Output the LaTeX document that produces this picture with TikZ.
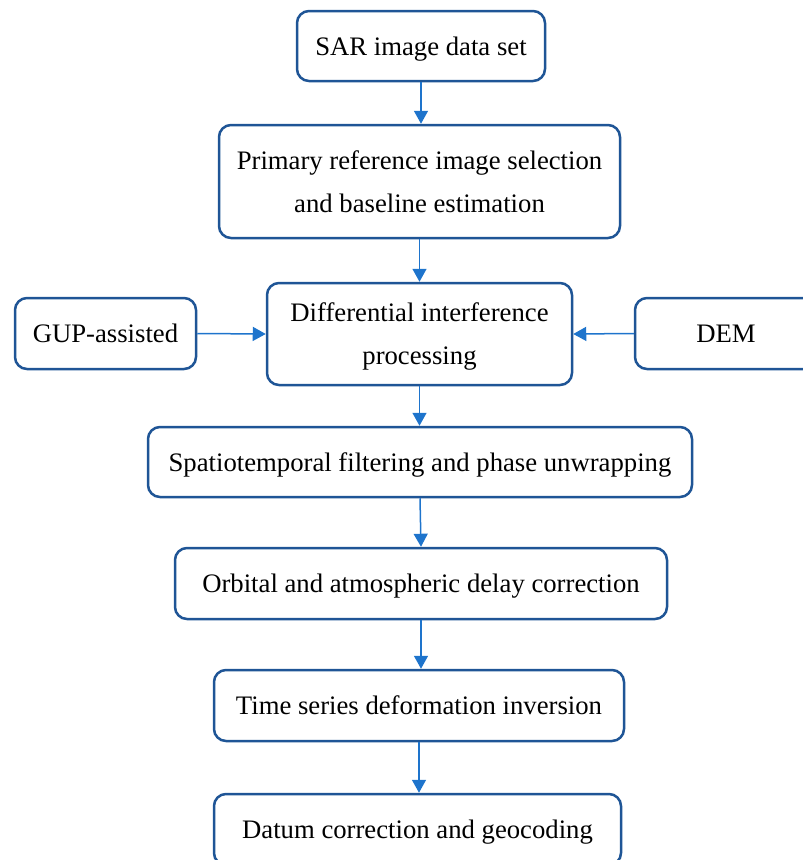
\documentclass[tikz,border=0pt]{standalone}
\usepackage{fontspec}
\setmainfont{Liberation Serif}
\usetikzlibrary{arrows.meta}
\definecolor{boxblue}{HTML}{1F5596}
\definecolor{arrblue}{HTML}{1E74CC}
\begin{document}
\begin{tikzpicture}[x=1pt,y=-1pt,
 box/.style={draw=boxblue, line width=2.5pt, rounded corners=12pt, fill=white, align=center, font=\fontsize{26.7}{43}\selectfont, inner sep=0pt, text depth=0pt},
 arr/.style={draw=arrblue, line width=1.5pt, -{Triangle[length=13pt,width=14pt]}}]
\useasboundingbox (0,0) rectangle (803,860);
\begin{scope}
\clip (0,0) rectangle (803,860);
\node[box, minimum width=248pt, minimum height=70pt] (sar) at (421,46) {SAR image data set};
\node[box, minimum width=401pt, minimum height=113pt] (prim) at (419.5,181.5) {Primary reference image selection\\and baseline estimation};
\node[box, minimum width=305pt, minimum height=102pt] (diff) at (419.5,334) {Differential interference\\processing};
\node[box, minimum width=181pt, minimum height=71pt] (gup) at (105.5,333.5) {GUP-assisted};
\node[box, minimum width=182pt, minimum height=71pt] (dem) at (726,333.5) {DEM};
\node[box, minimum width=544pt, minimum height=70pt] (spat) at (420,462) {Spatiotemporal filtering and phase unwrapping};
\node[box, minimum width=492pt, minimum height=71pt] (orb) at (421,583.5) {Orbital and atmospheric delay correction};
\node[box, minimum width=410pt, minimum height=71pt] (time) at (419,705.5) {Time series deformation inversion};
\node[box, minimum width=407pt, minimum height=71pt] (datum) at (417.5,829.5) {Datum correction and geocoding};
\draw[arr] (sar.south) -- (prim.north -| sar.south);
\draw[arr] (prim.south) -- (diff.north);
\draw[arr] (gup.east) -- (diff.west);
\draw[arr] (dem.west) -- (diff.east);
\draw[arr] (diff.south) -- (spat.north -| diff.south);
\draw[arr] (spat.south) -- (orb.north);
\draw[arr] (orb.south) -- (time.north -| orb.south);
\draw[arr] (time.south) -- (datum.north -| time.south);
\end{scope}
\end{tikzpicture}
\end{document}
